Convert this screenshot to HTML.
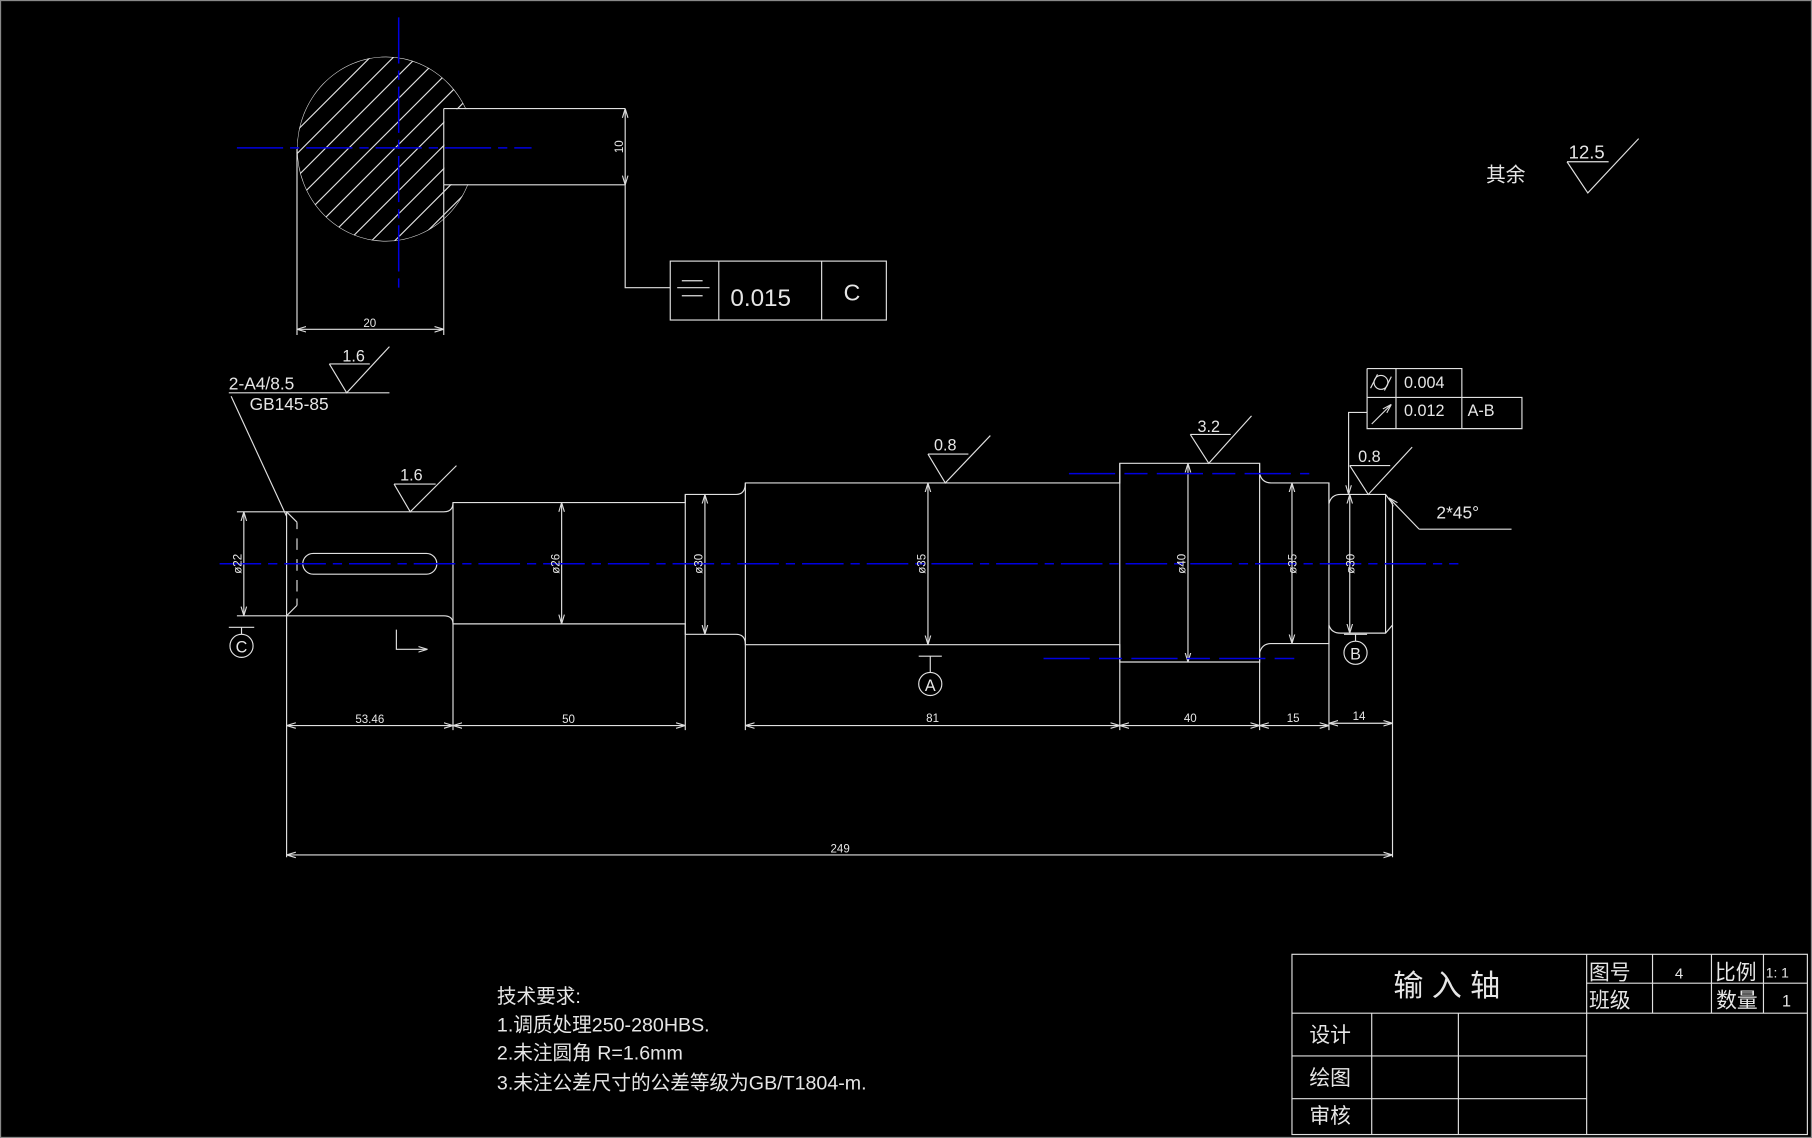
<!DOCTYPE html>
<html><head><meta charset="utf-8"><style>
html,body{margin:0;padding:0;background:#000;}
svg{display:block;}
text{fill:#e6e6e6;font-family:"Liberation Sans","Noto Sans CJK SC",sans-serif;}
.m{font-family:"Liberation Mono","Noto Serif CJK SC",monospace;}
</style></head><body>
<svg width="1812" height="1138" viewBox="0 0 1568 985" preserveAspectRatio="none" xmlns="http://www.w3.org/2000/svg">
<defs>
<marker id="a" viewBox="0 0 10 10" refX="10" refY="5" markerWidth="8" markerHeight="8" orient="auto-start-reverse" markerUnits="userSpaceOnUse"><path d="M0,2 L10,5 L0,8" fill="none" stroke="#ddd" stroke-width="1.2"/></marker>
<clipPath id="circ"><ellipse cx="334" cy="129" rx="77" ry="80"/></clipPath>
</defs>
<rect x="0.5" y="0.5" width="1567" height="984" fill="#000" stroke="#888" stroke-width="1"/>
<g stroke="#e0e0e0" stroke-width="1" fill="none">
<!-- section view -->
<g clip-path="url(#circ)">
  <path d="M110,300 L410,0 M130,300 L430,0 M150,300 L450,0 M170,300 L470,0 M190,300 L490,0 M210,300 L510,0 M230,300 L530,0 M250,300 L550,0 M270,300 L570,0 M290,300 L590,0 M310,300 L610,0 M330,300 L630,0 M350,300 L650,0 M370,300 L670,0 M390,300 L690,0 M90,300 L390,0 M70,300 L370,0 M50,300 L350,0"/>
  <ellipse cx="334" cy="129" rx="77" ry="80"/>
</g>
<rect x="384.5" y="94.5" width="70" height="65" fill="#000" stroke="none"/>
<path d="M384,94 L541,94 M384,160 L541,160 M384,94 L384,160"/>
<path d="M541,94 L541,160" marker-start="url(#a)" marker-end="url(#a)"/>
<path d="M541,160 L541,249 L580,249"/>
<rect x="580" y="226" width="187" height="51"/>
<path d="M622,226 V277 M711,226 V277 M590,243 H608 M586,249 H614 M590,256 H608"/>
<path d="M257,129 V290 M384,160 V290"/>
<path d="M257,285 H384" marker-start="url(#a)" marker-end="url(#a)"/>
<!-- top-left note -->
<path d="M198,340 H337 M285,315 H320 M285,315 L300,340 L337,300 M200,343 L248,447"/>
<!-- 12.5 -->
<path d="M1356,140 H1392 M1356,140 L1374,167 L1418,120"/>
<!-- shaft outline -->
<path d="M248,443 H384 Q392,443 392,435 H593 V428 H637 Q645,428 645,418 H969 V401 H1090 V410 Q1092,418 1100,418 H1150 V436 Q1152,428 1160,428 H1199 L1205,436 V541 L1199,548 H1160 Q1152,548 1150,541 V557 H1100 Q1092,557 1090,565 V573 H969 V558 H645 Q645,549 637,549 H593 V540 H392 Q392,533 384,533 H248 Z"/>
<path d="M248,443 L257,452 M248,533 L257,524 M257,452 V458 M257,466 V476 M257,484 V494 M257,502 V512 M257,518 V524"/>
<path d="M593,428 V549 M645,418 V558 M969,401 V573 M1090,401 V573 M1150,418 V557 M1199,428 V548 M392,435 V540"/>
<rect x="262" y="479" width="116" height="18" rx="9"/>
<path d="M343,545 V562 H370" marker-end="url(#a)"/>
<path d="M205,443 H248 M205,533 H248"/>
<path d="M211,443 V533" marker-start="url(#a)" marker-end="url(#a)"/>
<path d="M486,435 V540" marker-start="url(#a)" marker-end="url(#a)"/>
<path d="M610,428 V549" marker-start="url(#a)" marker-end="url(#a)"/>
<path d="M803,418 V558" marker-start="url(#a)" marker-end="url(#a)"/>
<path d="M1028,401 V573" marker-start="url(#a)" marker-end="url(#a)"/>
<path d="M1118,418 V557" marker-start="url(#a)" marker-end="url(#a)"/>
<path d="M1168,428 V548" marker-start="url(#a)" marker-end="url(#a)"/>
<path d="M198,543 H220 M209,543 V549 M795,568 H815 M805,568 V582 M1163,549 H1183 M1173,549 V555"/>
<circle cx="209" cy="559" r="10"/><circle cx="805" cy="592" r="10"/><circle cx="1173" cy="565" r="10"/>
<path d="M248,533 V742 M392,540 V632 M593,549 V632 M645,558 V632 M969,573 V632 M1090,573 V632 M1150,557 V632 M1205,541 V742"/>
<path d="M248,628 H392" marker-start="url(#a)" marker-end="url(#a)"/>
<path d="M392,628 H593" marker-start="url(#a)" marker-end="url(#a)"/>
<path d="M645,628 H969" marker-start="url(#a)" marker-end="url(#a)"/>
<path d="M969,628 H1090" marker-start="url(#a)" marker-end="url(#a)"/>
<path d="M1090,628 H1150" marker-start="url(#a)" marker-end="url(#a)"/>
<path d="M1150,626 H1205" marker-start="url(#a)" marker-end="url(#a)"/>
<path d="M248,740 H1205" marker-start="url(#a)" marker-end="url(#a)"/>
<path d="M341,419 H377 M341,419 L355,443 L395,403"/>
<path d="M803,393 H838 M803,393 L818,418 L857,377"/>
<path d="M1030,376 H1065 M1030,376 L1046,401 L1083,360"/>
<path d="M1168,403 H1203 M1168,403 L1184,428 L1222,387"/>
<path d="M1183,319 H1265 V371 M1183,319 V371 H1317 V344 H1183 M1208,319 V371"/>
<circle cx="1195" cy="331" r="6"/><path d="M1186,336 L1192,324 M1198,338 L1204,326"/>
<path d="M1187,367 L1204,350" marker-end="url(#a)"/>
<path d="M1183,357 H1167 V428" marker-end="url(#a)"/>
<path d="M1228,458 L1202,431" marker-end="url(#a)"/>
<path d="M1228,458 H1308"/>
<rect x="1118" y="826" width="446" height="156"/>
<path d="M1118,877 H1564 M1373,826 V982 M1373,851 H1564 M1430,826 V877 M1481,826 V877 M1526,826 V877 M1118,914 H1373 M1118,951 H1373 M1187,877 V982 M1262,877 V982"/>
</g>
<g stroke="#0000e0" stroke-width="1.3" fill="none">
<path d="M190,488 H1262" stroke-dasharray="36,6,8,6"/>
<path d="M205,128 H460" stroke-dasharray="40,6,8,6"/>
<path d="M345,15 V250" stroke-dasharray="40,6,8,6"/>
<path d="M925,410 H1133" stroke-dasharray="40,8,20,8"/>
<path d="M903,570 H1120" stroke-dasharray="40,8,20,8"/>
</g>
<g font-size="10" text-anchor="middle">
<text x="320" y="283">20</text>
<text transform="translate(539,127) rotate(-90)">10</text>
<text transform="translate(209,488) rotate(-90)">ø22</text>
<text transform="translate(484,488) rotate(-90)">ø26</text>
<text transform="translate(608,488) rotate(-90)">ø30</text>
<text transform="translate(801,488) rotate(-90)">ø35</text>
<text transform="translate(1026,488) rotate(-90)">ø40</text>
<text transform="translate(1122,488) rotate(-90)">ø35</text>
<text transform="translate(1172,488) rotate(-90)">ø30</text>
<text x="320" y="626">53.46</text>
<text x="492" y="626">50</text>
<text x="807" y="625">81</text>
<text x="1030" y="625">40</text>
<text x="1119" y="625">15</text>
<text x="1176" y="623">14</text>
<text x="727" y="738">249</text>
</g>
<g font-size="14" text-anchor="middle">
<text x="209" y="565">C</text><text x="805" y="598">A</text><text x="1173" y="571">B</text>
<text x="306" y="313">1.6</text>
<text x="356" y="416">1.6</text>
<text x="818" y="390">0.8</text>
<text x="1046" y="374">3.2</text>
<text x="1185" y="400">0.8</text>
<text x="1373" y="137" font-size="16">12.5</text>
</g>
<g font-size="15">
<text x="198" y="337">2-A4/8.5</text>
<text x="216" y="355">GB145-85</text>
<text x="1215" y="336" font-size="14">0.004</text>
<text x="1215" y="360" font-size="14">0.012</text>
<text x="1270" y="360" font-size="14">A-B</text>
<text x="1243" y="449" font-size="15">2*45°</text>
<text x="632" y="265" font-size="21">0.015</text>
<text x="730" y="260" font-size="20">C</text>
<text x="1286" y="157" font-size="17">其余</text>
</g>
<g class="m" font-size="17">
<text x="430" y="868">技术要求:</text>
<text x="430" y="893">1.调质处理250-280HBS.</text>
<text x="430" y="917">2.未注圆角 R=1.6mm</text>
<text x="430" y="943">3.未注公差尺寸的公差等级为GB/T1804-m.</text>
</g>
<g class="m">
<text x="1252" y="862" font-size="26" text-anchor="middle">输 入 轴</text>
<text x="1375" y="848" font-size="18">图号</text>
<text x="1453" y="847" font-size="13" text-anchor="middle">4</text>
<text x="1484" y="848" font-size="18">比例</text>
<text x="1528" y="846" font-size="12">1: 1</text>
<text x="1375" y="872" font-size="18">班级</text>
<text x="1485" y="872" font-size="18">数量</text>
<text x="1546" y="871" font-size="14" text-anchor="middle">1</text>
<text x="1151" y="902" font-size="18" text-anchor="middle">设计</text>
<text x="1151" y="939" font-size="18" text-anchor="middle">绘图</text>
<text x="1151" y="972" font-size="18" text-anchor="middle">审核</text>
</g>
</svg>
</body></html>
